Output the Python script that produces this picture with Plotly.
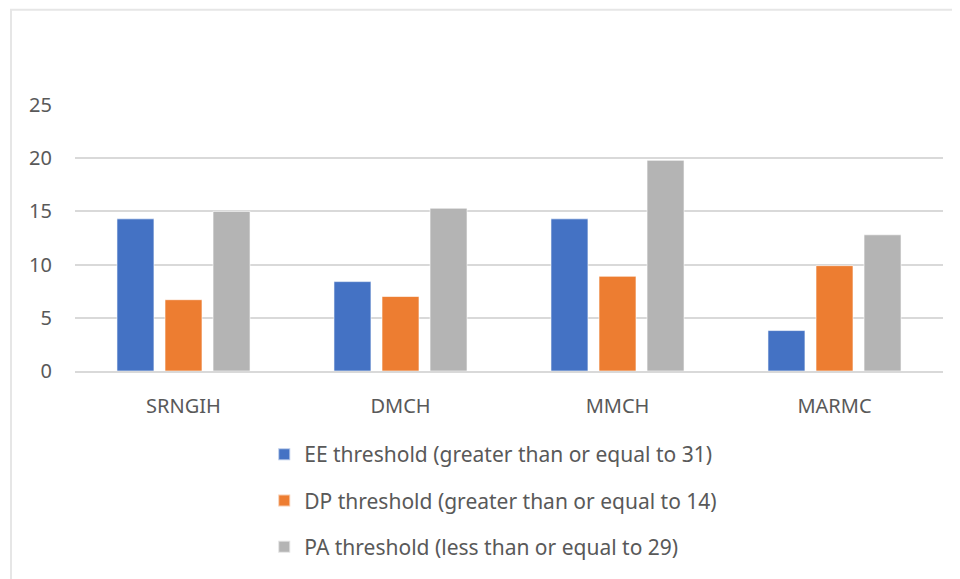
import plotly.graph_objects as go

categories = ["SRNGIH", "DMCH", "MMCH", "MARMC"]
series_names = [
    "EE threshold (greater than or equal to 31)",
    "DP threshold (greater than or equal to 14)",
    "PA threshold (less than or equal to 29)",
]
ee_values = [14.3, 8.4, 14.3, 3.8]
dp_values = [6.7, 7.0, 8.9, 9.9]
pa_values = [15.0, 15.3, 19.8, 12.8]
y_ticks = [0, 5, 10, 15, 20, 25]

colors = ["#4472C4", "#ED7D31", "#B4B4B4"]
font_family = "Noto Sans, Open Sans, sans-serif"
text_color = "#595959"

# page body has an 8px default margin, so the figure is slightly smaller
W, H = 952, 571
ml, mr, mt, mb = 67, 17, 97, 206
pw, ph = W - ml - mr, H - mt - mb

fig = go.Figure()
for i, (name, vals) in enumerate(zip(series_names, [ee_values, dp_values, pa_values])):
    fig.add_trace(go.Bar(
        x=categories, y=vals, name=name,
        marker=dict(color=colors[i], line=dict(color="rgba(255,255,255,0.6)", width=1)),
        legendgroup=f"g{i}",
    ))

# outer chart border (decorative)
fig.add_shape(type="rect", xref="paper", yref="paper",
              x0=(3 - ml) / pw, x1=(W + 10 - ml) / pw,
              y0=(H - mb - (H + 10)) / ph, y1=(H - mb - 1) / ph,
              line=dict(color="#E6E6E6", width=2), fillcolor="rgba(0,0,0,0)", layer="below")

fig.update_layout(
    width=W, height=H,
    margin=dict(l=ml, r=mr, t=mt, b=mb),
    paper_bgcolor="white", plot_bgcolor="white",
    barmode="group", bargap=0.336, bargroupgap=0.23,
    font=dict(family=font_family, color=text_color, size=20),
    showlegend=True,
    legend=dict(orientation="v", x=0.218, xanchor="left", y=-0.237, yanchor="top",
                font=dict(size=21, color=text_color, family=font_family),
                tracegroupgap=16, itemsizing="constant"),
    xaxis=dict(showgrid=False, showline=True, linecolor="#D9D9D9", linewidth=1.5,
               ticks="", ticklabelstandoff=16, tickfont=dict(size=20)),
    yaxis=dict(range=[0, 25], tickvals=y_ticks, showgrid=True, gridcolor="#D9D9D9",
               gridwidth=1.5, zeroline=False, showline=False, ticks="",
               ticklabelstandoff=22, tickfont=dict(size=20)),
)

fig.write_html("out.html")
